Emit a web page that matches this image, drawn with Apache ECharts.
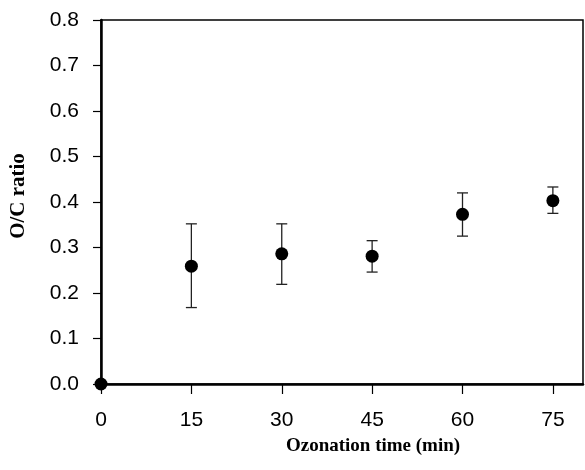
<!DOCTYPE html>
<html>
<head>
<meta charset="utf-8">
<script src="https://cdn.jsdelivr.net/npm/echarts@6/dist/echarts.min.js"></script>
<style>html,body{margin:0;padding:0;background:#fff}#c{width:585px;height:470px}</style>
</head>
<body>
<div id="c"></div>
<script>
const times = [0, 15, 30, 45, 60, 75];
const ocRatio = [0.0, 0.259, 0.286, 0.281, 0.373, 0.403];
const errLow = [null, 0.168, 0.219, 0.246, 0.325, 0.375];
const errHigh = [null, 0.352, 0.352, 0.315, 0.420, 0.433];
const xTicks = [0, 15, 30, 45, 60, 75];
const xTitle = 'Ozonation time (min)';
const yTitle = 'O/C ratio';

const chart = echarts.init(document.getElementById('c'), null, {renderer: 'canvas'});
const pts = times.map((t, i) => [t, ocRatio[i]]);
const errs = times.map((t, i) => [t, errLow[i], errHigh[i]]).filter(d => d[1] != null);

chart.setOption({
  animation: false,
  backgroundColor: '#fff',
  grid: {left: 101, right: 2, top: 20, bottom: 86, show: true, borderColor: '#000', borderWidth: 1.5, backgroundColor: 'transparent'},
  xAxis: {
    type: 'value', min: 0, max: 80, interval: 15,
    splitLine: {show: false},
    axisLine: {show: true, onZero: false, lineStyle: {color: '#000', width: 2.5}},
    axisTick: {show: true, inside: false, length: 10, customValues: xTicks, lineStyle: {color: '#000', width: 1.2}},
    axisLabel: {customValues: xTicks, color: '#000', fontFamily: 'Liberation Sans, Arial, sans-serif', fontSize: 21, margin: 26}
  },
  yAxis: {
    type: 'value', min: 0, max: 0.8, interval: 0.1,
    splitLine: {show: false},
    axisLine: {show: true, onZero: false, lineStyle: {color: '#000', width: 2.5}},
    axisTick: {show: true, inside: false, length: 8, lineStyle: {color: '#000', width: 1.2}},
    axisLabel: {color: '#000', fontFamily: 'Liberation Sans, Arial, sans-serif', fontSize: 21, margin: 22,
      formatter: v => v.toFixed(1)}
  },
  graphic: [{
    type: 'text', x: 373, y: 446,
    style: {text: xTitle, fill: '#000', font: 'bold 19px "Liberation Serif", "Times New Roman", serif', textAlign: 'center', textVerticalAlign: 'middle'}
  }, {
    type: 'text', x: 19, y: 196, rotation: Math.PI / 2,
    style: {text: yTitle, fill: '#000', font: 'bold 21px "Liberation Serif", "Times New Roman", serif', textAlign: 'center', textVerticalAlign: 'middle'}
  }],
  series: [
    {
      type: 'custom',
      data: errs,
      z: 3,
      renderItem: function (params, api) {
        const x = api.value(0);
        const lo = api.coord([x, api.value(1)]);
        const hi = api.coord([x, api.value(2)]);
        const w = 5.5;
        const st = {stroke: '#222', lineWidth: 1.3};
        return {type: 'group', children: [
          {type: 'line', shape: {x1: lo[0], y1: lo[1], x2: hi[0], y2: hi[1]}, style: st},
          {type: 'line', shape: {x1: lo[0] - w, y1: lo[1], x2: lo[0] + w, y2: lo[1]}, style: st},
          {type: 'line', shape: {x1: hi[0] - w, y1: hi[1], x2: hi[0] + w, y2: hi[1]}, style: st}
        ]};
      }
    },
    {
      type: 'scatter', data: pts, symbol: 'circle', symbolSize: 13, z: 5,
      itemStyle: {color: '#000', opacity: 1}, clip: false
    }
  ]
});
</script>
</body>
</html>
